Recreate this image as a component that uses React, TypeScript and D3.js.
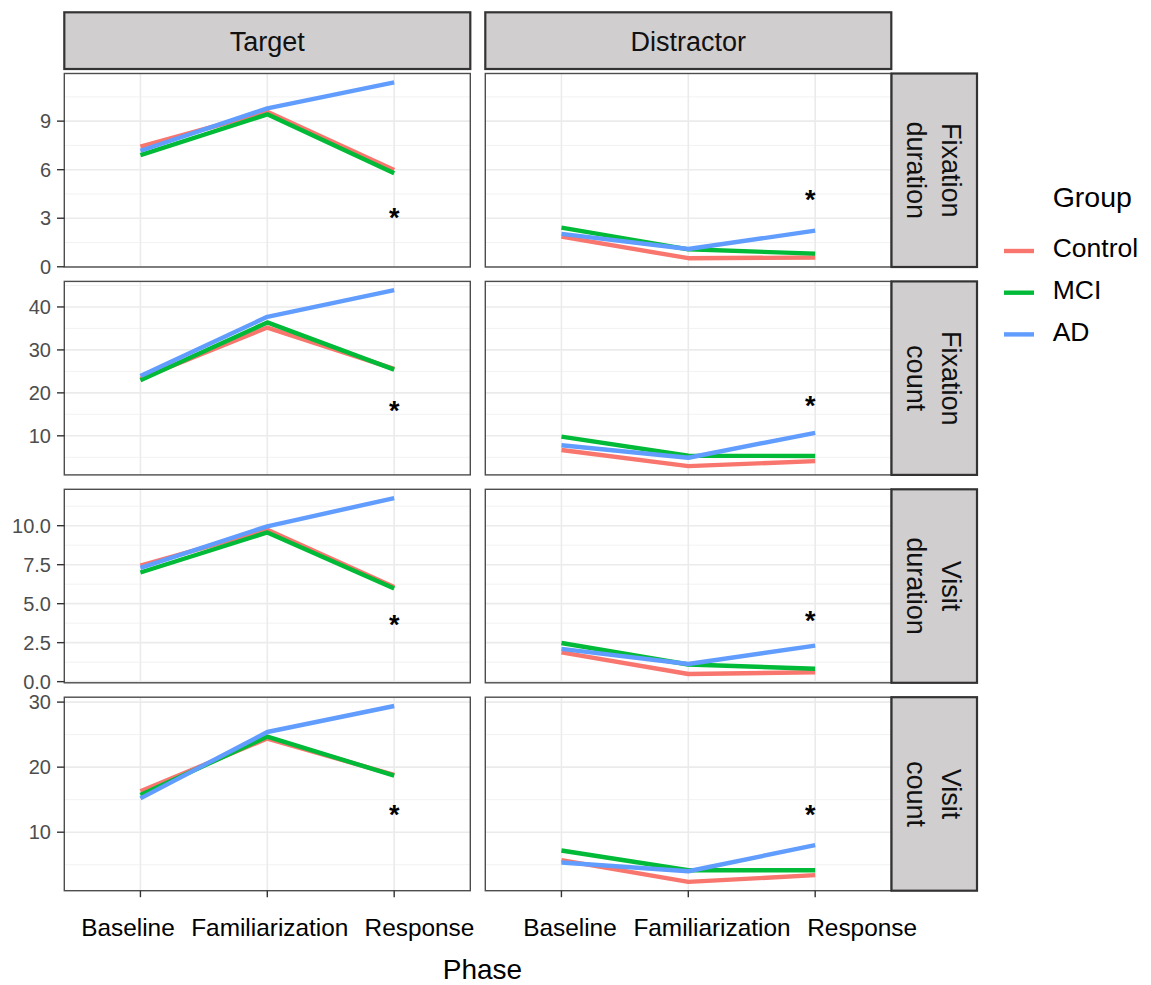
import React from "react";
import * as d3 from "d3";

const phases = ["Baseline", "Familiarization", "Response"];
const groups = ["Control", "MCI", "AD"];
const groupColors = ["#F8766D", "#00BA38", "#619CFF"];
const areas = ["Target", "Distractor"];
const measureLabels = [
  ["Fixation", "duration"],
  ["Fixation", "count"],
  ["Visit", "duration"],
  ["Visit", "count"],
];

// rows = Control, MCI, AD ; columns = phases
const fixDurTarget = [[7.42, 9.58, 5.98], [6.9, 9.42, 5.78], [7.17, 9.79, 11.4]];
const fixDurDistractor = [[1.86, 0.53, 0.57], [2.42, 1.08, 0.81], [2.03, 1.1, 2.23]];
const fixCntTarget = [[23.3, 35.2, 25.6], [22.95, 36.4, 25.4], [23.9, 37.7, 43.9]];
const fixCntDistractor = [[6.7, 2.95, 4.1], [9.8, 5.35, 5.3], [7.8, 4.9, 10.7]];
const visDurTarget = [[7.44, 9.74, 6.07], [7.0, 9.57, 5.98], [7.29, 9.96, 11.77]];
const visDurDistractor = [[1.88, 0.49, 0.6], [2.48, 1.1, 0.83], [2.1, 1.13, 2.31]];
const visCntTarget = [[16.3, 24.4, 18.8], [15.7, 24.7, 18.7], [15.2, 25.4, 29.4]];
const visCntDistractor = [[5.7, 2.36, 3.4], [7.18, 4.15, 4.15], [5.34, 4.0, 8.0]];

// significance markers at Response
const starTarget = [3.4, 17.1, 4.02, 13.5];
const starDistractor = [4.48, 18.3, 4.25, 13.5];

const yTicks = [
  [0, 3, 6, 9],
  [10, 20, 30, 40],
  [0, 2.5, 5, 7.5, 10],
  [10, 20, 30],
];

const panelData = [
  [fixDurTarget, fixDurDistractor],
  [fixCntTarget, fixCntDistractor],
  [visDurTarget, visDurDistractor],
  [visCntTarget, visCntDistractor],
];
const starData = [starTarget, starDistractor];

const FONT = "'Liberation Sans', Arial, sans-serif";

const colX = [[64.3, 470.3], [485.3, 891.3]];
const rowTop0 = 73.5;
const rowH = 193.5;
const rowPitch = 207.9;
const stripTop = 12.3;
const stripBottom = 69;
const rStripX0 = 891.5;
const rStripX1 = 977;

// per-panel nudges of the phase labels (they were spread out in the original)
const labelNudge = [[-12.5, 2.5, 25.3], [8.5, 23.7, 47]];
const starNudge = [0, -5];

export default function App() {
  const xScales = colX.map(([a, b]) =>
    d3.scalePoint<string>().domain(phases).range([a, b]).padding(0.6)
  );

  const yScales = panelData.map((row, r) => {
    const vals = [...row.flat(2), ...starData.map((s) => s[r])];
    const lo = d3.min(vals)!;
    const hi = d3.max(vals)!;
    const ex = (hi - lo) * 0.05;
    const top = rowTop0 + r * rowPitch;
    return d3.scaleLinear().domain([lo - ex, hi + ex]).range([top + rowH, top]);
  });

  const panels: React.ReactNode[] = [];

  panelData.forEach((row, r) => {
    const y = yScales[r];
    const [d0, d1] = y.domain();
    const ticks = yTicks[r];
    const step = ticks[1] - ticks[0];
    const minor: number[] = [];
    for (let v = ticks[0] - step / 2; v <= d1; v += step) if (v >= d0) minor.push(v);
    const isDec = ticks.some((t) => !Number.isInteger(t));
    const fmt = isDec ? d3.format(".1f") : d3.format("d");
    const top = rowTop0 + r * rowPitch;

    row.forEach((area, c) => {
      const x = xScales[c];
      const [x0, x1] = colX[c];
      const path = d3
        .line<number>()
        .x((_, i) => x(phases[i])!)
        .y((d) => y(d));
      panels.push(
        <g key={`p${r}-${c}`}>
          <rect x={x0} y={top} width={x1 - x0} height={rowH} fill="#fff" />
          {minor.map((v) => (
            <line key={`mn${v}`} x1={x0} x2={x1} y1={y(v)} y2={y(v)} stroke="#F2F2F2" strokeWidth={1} />
          ))}
          {ticks.map((v) => (
            <line key={`mj${v}`} x1={x0} x2={x1} y1={y(v)} y2={y(v)} stroke="#EBEBEB" strokeWidth={1.6} />
          ))}
          {phases.map((p) => (
            <line key={`v${p}`} x1={x(p)} x2={x(p)} y1={top} y2={top + rowH} stroke="#EBEBEB" strokeWidth={1.6} />
          ))}
          {area.map((vals, g) => (
            <path
              key={`l${g}`}
              d={path(vals)!}
              fill="none"
              stroke={groupColors[g]}
              strokeWidth={4.4}
              strokeLinejoin="round"
            />
          ))}
          <text
            x={x("Response")! + starNudge[c]}
            y={y(starData[c][r]) + 15}
            textAnchor="middle"
            fontFamily={FONT}
            fontWeight="bold"
            fontSize={27}
            fill="#000"
          >
            *
          </text>
          <rect x={x0} y={top} width={x1 - x0} height={rowH} fill="none" stroke="#4D4D4D" strokeWidth={1.4} />
        </g>
      );
    });

    // y axis
    panels.push(
      <g key={`ya${r}`}>
        {ticks.map((v) => (
          <g key={v}>
            <line x1={57} x2={colX[0][0]} y1={y(v)} y2={y(v)} stroke="#333" strokeWidth={1.4} />
            <text
              x={51}
              y={y(v)}
              dy="0.36em"
              textAnchor="end"
              fontFamily={FONT}
              fontSize={20}
              fill="#4D4D4D"
            >
              {fmt(v)}
            </text>
          </g>
        ))}
      </g>
    );

    // right strip
    const cy = top + rowH / 2;
    panels.push(
      <g key={`rs${r}`}>
        <rect x={rStripX0} y={top} width={rStripX1 - rStripX0} height={rowH} fill="#D0CECF" stroke="#333" strokeWidth={2.2} />
        <text transform={`translate(942,${cy}) rotate(90)`} textAnchor="middle" fontFamily={FONT} fontSize={27} fill="#111">
          {measureLabels[r][0]}
        </text>
        <text transform={`translate(907,${cy}) rotate(90)`} textAnchor="middle" fontFamily={FONT} fontSize={27} fill="#111">
          {measureLabels[r][1]}
        </text>
      </g>
    );
  });

  const bottom = rowTop0 + 3 * rowPitch + rowH;

  return (
    <svg width={1151} height={985} style={{ position: "absolute", left: 0, top: 0, background: "#fff" }}>
      <rect width={1151} height={985} fill="#fff" />
      {areas.map((a, c) => (
        <g key={a}>
          <rect
            x={colX[c][0]}
            y={stripTop}
            width={colX[c][1] - colX[c][0]}
            height={stripBottom - stripTop}
            fill="#D0CECF"
            stroke="#333"
            strokeWidth={2.2}
          />
          <text
            x={(colX[c][0] + colX[c][1]) / 2}
            y={50.5}
            textAnchor="middle"
            fontFamily={FONT}
            fontSize={27}
            fill="#111"
          >
            {a}
          </text>
        </g>
      ))}
      {panels}
      {xScales.map((x, c) => (
        <g key={`xa${c}`}>
          {phases.map((p, i) => (
            <g key={p}>
              <line x1={x(p)} x2={x(p)} y1={bottom} y2={bottom + 6.5} stroke="#333" strokeWidth={1.4} />
              <text
                x={x(p)! + labelNudge[c][i]}
                y={935.5}
                textAnchor="middle"
                fontFamily={FONT}
                fontSize={24.4}
                fill="#000"
              >
                {p}
              </text>
            </g>
          ))}
        </g>
      ))}
      <text x={482.5} y={979} textAnchor="middle" fontFamily={FONT} fontSize={28} fill="#000">
        Phase
      </text>
      <g>
        <text x={1052.7} y={207} fontFamily={FONT} fontSize={28.5} fill="#000">
          Group
        </text>
        {groups.map((g, i) => (
          <g key={g}>
            <line
              x1={1004}
              x2={1034}
              y1={251 + i * 41.7}
              y2={251 + i * 41.7}
              stroke={groupColors[i]}
              strokeWidth={4.4}
            />
            <text x={1052.7} y={257.3 + i * 41.7} fontFamily={FONT} fontSize={26.5} fill="#000">
              {g}
            </text>
          </g>
        ))}
      </g>
    </svg>
  );
}
